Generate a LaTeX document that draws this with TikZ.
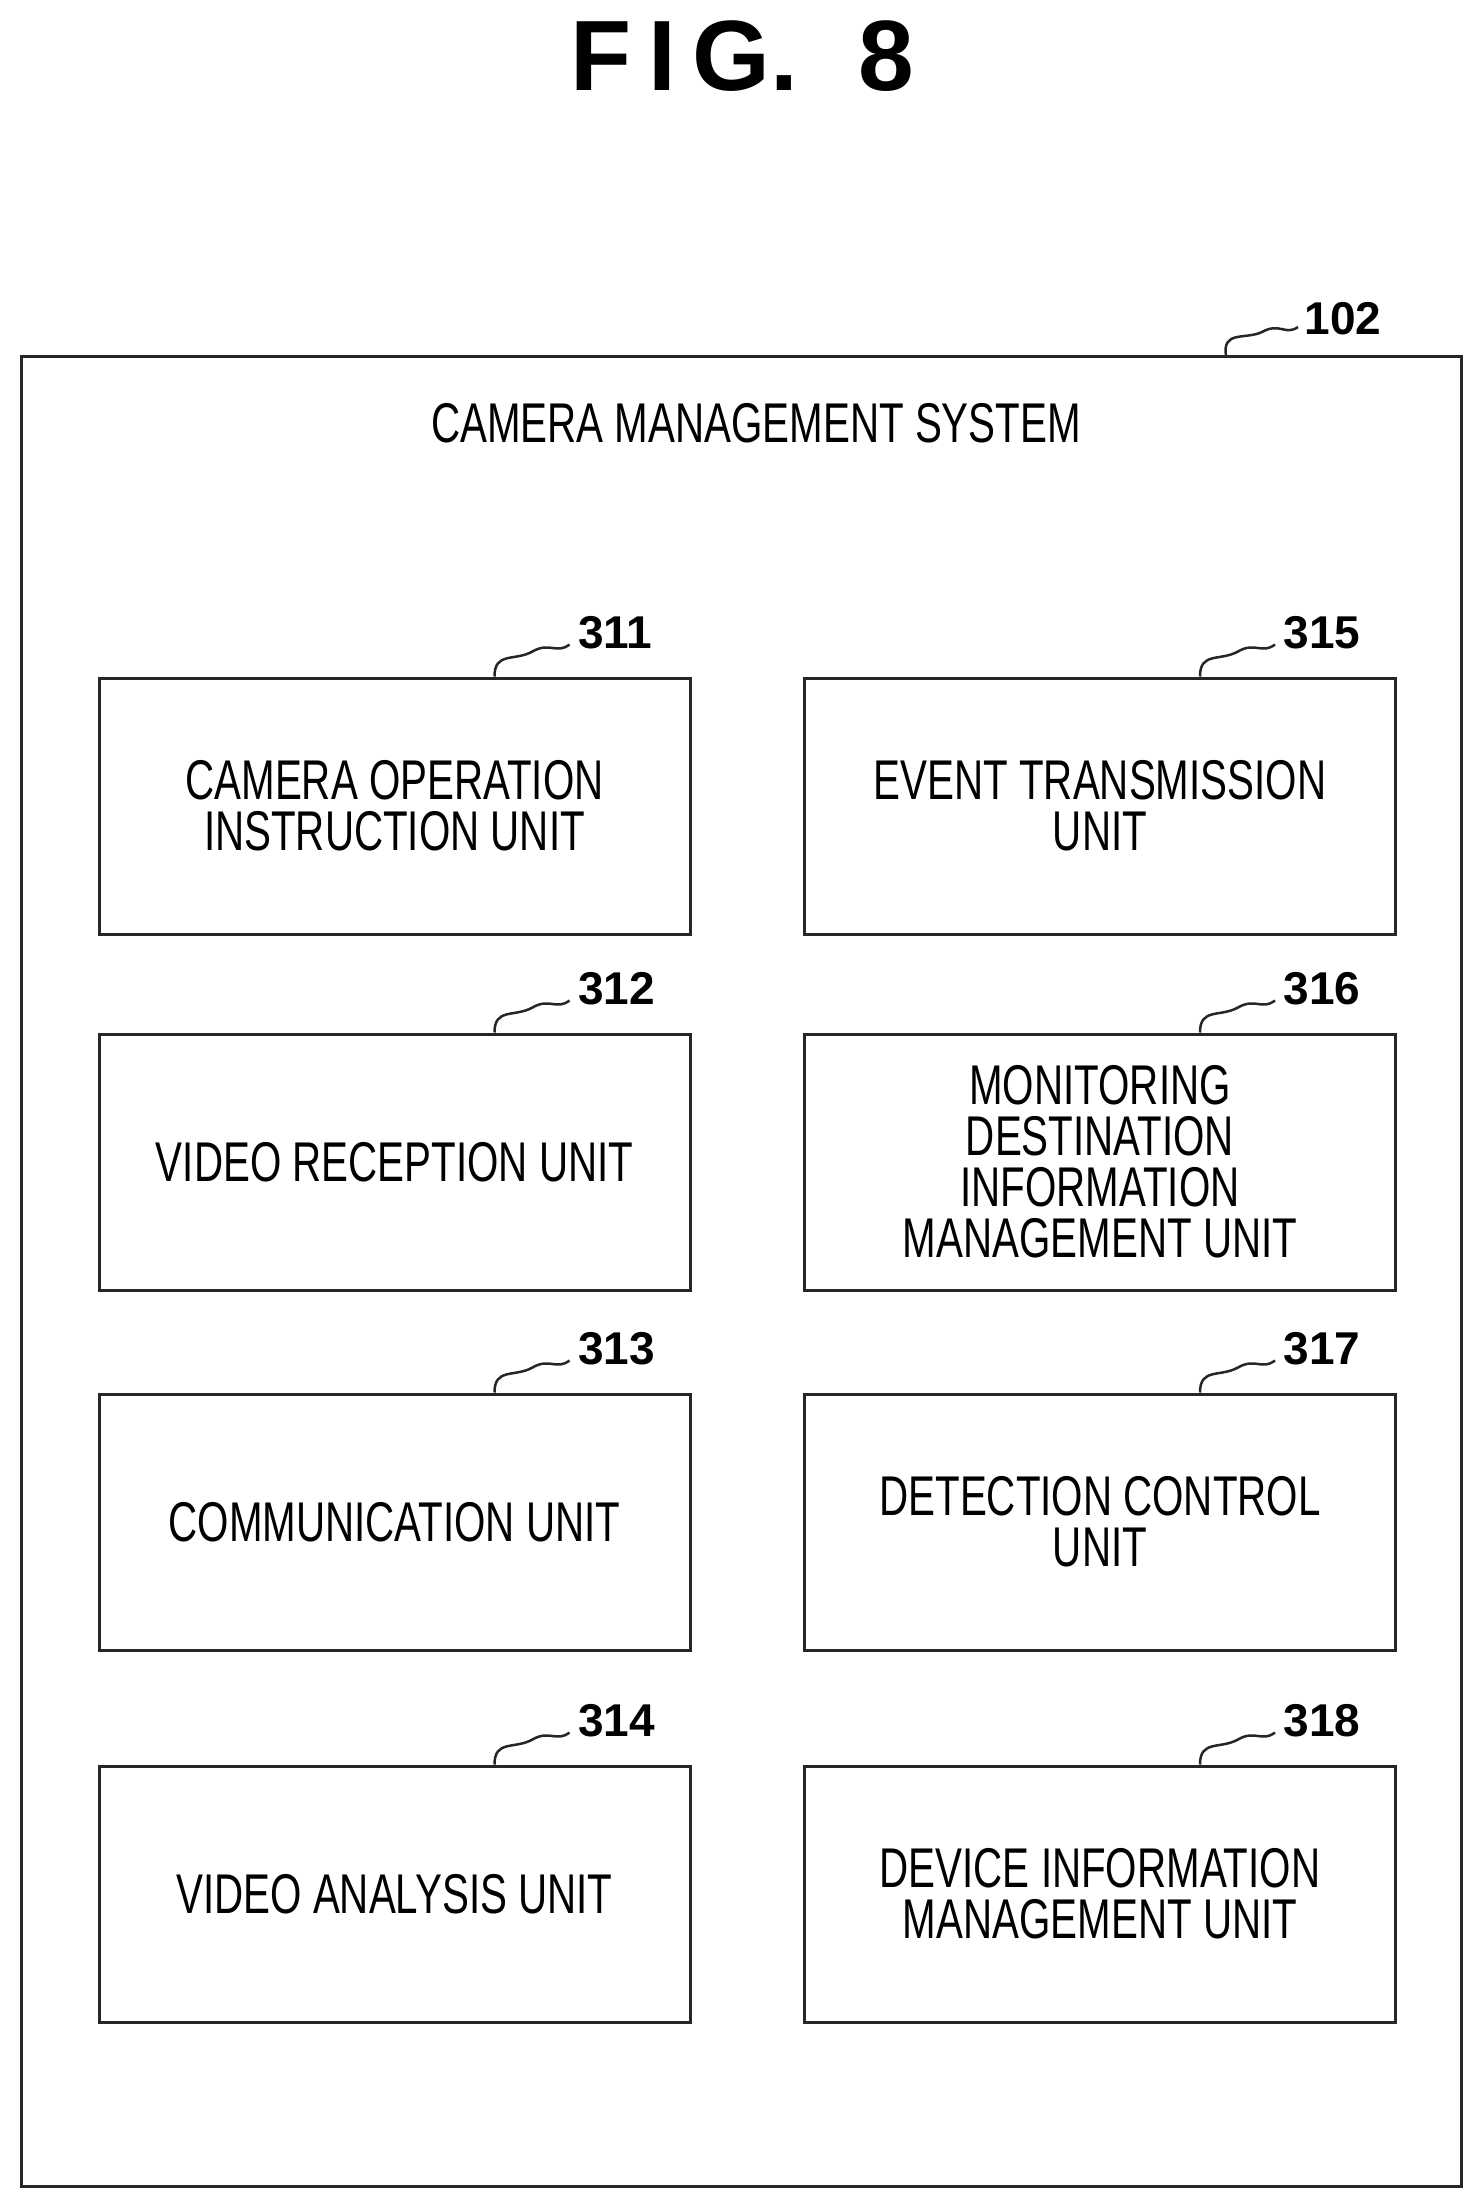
\documentclass[tikz,border=0pt]{standalone}
\usepackage{fontspec}
\setmainfont{Liberation Sans}
\newfontfamily\narrowf[FakeStretch=0.72]{Liberation Sans}
\begin{document}
\begin{tikzpicture}[x=1pt,y=-1pt,
  unitbox/.style={draw=black!85,line width=3pt,minimum width=591pt,minimum height=256pt,align=center,
    font=\narrowf\fontsize{56}{51}\selectfont,inner sep=0pt},
  reflab/.style={font=\bfseries\fontsize{46}{50}\selectfont,anchor=west},
  sq/.style={line width=2.5pt,black!85}]
\useasboundingbox (0,0) rectangle (1479,2205);
\node[font=\bfseries\fontsize{100}{100}\selectfont] (fig) at (742,56) {F\,I\,G.\hspace{0.6em}8};
\node[draw=black!85,line width=3pt,minimum width=1440pt,minimum height=1830pt,inner sep=0pt] (sys) at (741,1271) {};
\node[font=\narrowf\fontsize{56}{51}\selectfont] (title) at (756,423) {CAMERA MANAGEMENT SYSTEM};
\newcommand{\ubox}[5]{%
  \node[unitbox] (#1) at (#2,#3) {#4};
  \coordinate (#1s) at ([xshift=100pt]#1.north);
  \draw[sq] (#1s) .. controls ([yshift=25pt]#1s) and ([shift={(20pt,15pt)}]#1s) .. ([shift={(38pt,25pt)}]#1s)
    .. controls ([shift={(55pt,35pt)}]#1s) and ([shift={(62pt,22pt)}]#1s) .. ([shift={(75pt,32pt)}]#1s) coordinate (#1e);
  \node[reflab] at ([shift={(5pt,12pt)}]#1e) {#5};}
\ubox{u311}{394.5}{806}{CAMERA OPERATION\\INSTRUCTION UNIT}{311}
\ubox{u312}{394.5}{1162}{VIDEO RECEPTION UNIT}{312}
\ubox{u313}{394.5}{1522}{COMMUNICATION UNIT}{313}
\ubox{u314}{394.5}{1894}{VIDEO ANALYSIS UNIT}{314}
\ubox{u315}{1100}{806}{EVENT TRANSMISSION\\UNIT}{315}
\ubox{u316}{1100}{1162}{MONITORING\\DESTINATION\\INFORMATION\\MANAGEMENT UNIT}{316}
\ubox{u317}{1100}{1522}{DETECTION CONTROL\\UNIT}{317}
\ubox{u318}{1100}{1894}{DEVICE INFORMATION\\MANAGEMENT UNIT}{318}
\coordinate (ss) at (1226,356);
\draw[sq] (ss) .. controls (1222,330) and (1245,340) .. (1262,332) .. controls (1280,322) and (1285,336) .. (1298,327) coordinate (se);
\node[reflab] at ([shift={(3pt,8pt)}]se) {102};
\end{tikzpicture}
\end{document}
